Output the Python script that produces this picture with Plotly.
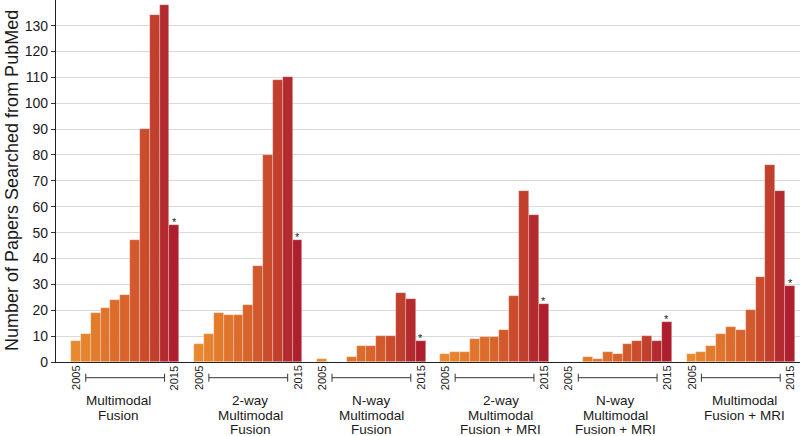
import plotly.graph_objects as go

years = [str(y) for y in range(2005, 2016)]
group_labels = [
    "Multimodal<br>Fusion",
    "2-way<br>Multimodal<br>Fusion",
    "N-way<br>Multimodal<br>Fusion",
    "2-way<br>Multimodal<br>Fusion + MRI",
    "N-way<br>Multimodal<br>Fusion + MRI",
    "Multimodal<br>Fusion + MRI",
]
multimodal_fusion = [8, 11, 19, 21, 24, 26, 47, 90, 134, 138, 53]
two_way_fusion = [7, 11, 19, 18, 18, 22, 37, 80, 109, 110, 47]
n_way_fusion = [1, 0, 0, 2, 6, 6, 10, 10, 26.5, 24.5, 8]
two_way_fusion_mri = [3, 4, 4, 8.7, 9.8, 9.8, 12.3, 25.5, 66, 57, 22.6]
n_way_fusion_mri = [0, 0, 2, 1, 4, 3, 7, 8, 10, 8, 15.3]
multimodal_fusion_mri = [3, 4, 6, 10.7, 13.4, 12.3, 20, 33, 76, 66, 29.3]
series = [multimodal_fusion, two_way_fusion, n_way_fusion,
          two_way_fusion_mri, n_way_fusion_mri, multimodal_fusion_mri]
y_ticks = list(range(0, 131, 10))

# styles / layout helpers
year_colors = ["#E8892F", "#E6832E", "#E37B2D", "#E0742D", "#DC6C2C", "#D8642C",
               "#D2592C", "#CA4C2C", "#C03F2D", "#B42B2F", "#AE1F2E"]
group_step = 12.5
label_shift = [-7, 2, 0, 6, -2, 4]
FONT = "Liberation Sans, Arial, sans-serif"
TXT = "#1a1a1a"

fig = go.Figure()
annotations = []
shapes = []
n = len(years)
for g, vals in enumerate(series):
    xs = [g * group_step + i for i in range(n)]
    fig.add_trace(go.Bar(
        x=xs, y=vals, width=1,
        marker=dict(color=year_colors, line=dict(color="rgba(255,255,255,0.45)", width=0.6)),
        hovertext=years, showlegend=False,
    ))
    # asterisk on last (partial) year
    annotations.append(dict(x=xs[-1], y=vals[-1], xref="x", yref="y", text="*",
                            showarrow=False, yanchor="bottom", yshift=-5,
                            font=dict(family=FONT, size=11, color=TXT)))
    # year labels
    for xi, yr in ((xs[0], years[0]), (xs[-1], years[-1])):
        annotations.append(dict(x=xi, y=0, xref="x", yref="paper", text=yr,
                                textangle=-90, showarrow=False, yanchor="top",
                                xanchor="center", yshift=-2,
                                font=dict(family=FONT, size=11, color=TXT)))
    # bracket
    yb = -15.7 / 362
    cap = 4 / 362
    shapes.append(dict(type="line", xref="x", yref="paper", x0=xs[1], x1=xs[-2],
                       y0=yb, y1=yb, line=dict(color="#333", width=1)))
    for xc in (xs[1], xs[-2]):
        shapes.append(dict(type="line", xref="x", yref="paper", x0=xc, x1=xc,
                           y0=yb - cap, y1=yb + cap, line=dict(color="#333", width=1)))
    # group label lines
    for k, line in enumerate(group_labels[g].split("<br>")):
        annotations.append(dict(x=g * group_step + (n - 1) / 2, y=-(38.5 + 14.5 * k) / 362,
                                xref="x", yref="paper", text=line, showarrow=False,
                                xanchor="center", yanchor="middle", xshift=label_shift[g],
                                font=dict(family=FONT, size=13.5, color=TXT)))

annotations.append(dict(x=-(56 - 12) / 744, y=0.5, xref="paper", yref="paper",
                        text="Number of Papers Searched from PubMed", textangle=-90,
                        showarrow=False, xanchor="center", yanchor="middle",
                        font=dict(family=FONT, size=18, color=TXT)))

fig.update_layout(
    width=800, height=436,
    margin=dict(l=56, r=0, t=0, b=74),
    plot_bgcolor="white", paper_bgcolor="white",
    bargap=0, barmode="overlay",
    annotations=annotations, shapes=shapes,
    font=dict(family=FONT, color=TXT),
)
fig.update_xaxes(range=[-2.02, 73.51], showticklabels=False, ticks="",
                 showgrid=False, zeroline=False, showline=True,
                 linecolor="#222", linewidth=1.2)
fig.update_yaxes(range=[0, 139.9], tickvals=y_ticks, ticks="outside", ticklen=4,
                 tickcolor="#333", showline=True, linecolor="#222", linewidth=1.2,
                 gridcolor="#DADADA", gridwidth=1, zeroline=False,
                 tickfont=dict(family=FONT, size=14, color=TXT))

fig.write_html("out.html", config={"displayModeBar": False},
               post_script="document.body.style.margin='0';document.body.style.overflow='hidden';")
